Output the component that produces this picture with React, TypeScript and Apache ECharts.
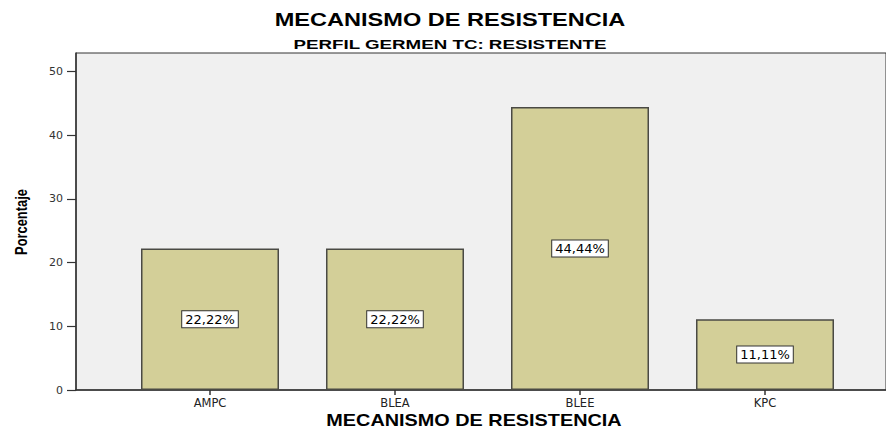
import React, { useEffect, useRef } from "react";
import * as echarts from "echarts";

const categories = ["AMPC", "BLEA", "BLEE", "KPC"];
const values = [22.22, 22.22, 44.44, 11.11];
const yTicks = [0, 10, 20, 30, 40, 50];
const yMax = 52.9;
const mainTitle = "MECANISMO DE RESISTENCIA";
const subTitle = "PERFIL GERMEN TC: RESISTENTE";
const xTitle = "MECANISMO DE RESISTENCIA";
const yTitle = "Porcentaje";

const fmt = (v: number) => v.toFixed(2).replace(".", ",") + "%";

export default function App() {
  const ref = useRef<HTMLDivElement>(null);
  useEffect(() => {
    if (!ref.current) return;
    const chart = echarts.init(ref.current, null, { renderer: "svg" });
    chart.setOption({
      animation: false,
      backgroundColor: "#ffffff",
      graphic: [
        {
          type: "text",
          x: 450,
          y: 20,
          scaleX: 1.24,
          style: {
            text: mainTitle,
            fontFamily: "Liberation Sans, Arial, sans-serif",
            fontWeight: "bold",
            fontSize: 19,
            fill: "#000",
            textAlign: "center",
            textVerticalAlign: "middle",
          },
        },
        {
          type: "text",
          x: 450,
          y: 44.5,
          scaleX: 1.5,
          style: {
            text: subTitle,
            fontFamily: "Liberation Sans, Arial, sans-serif",
            fontWeight: "bold",
            fontSize: 12.5,
            fill: "#000",
            textAlign: "center",
            textVerticalAlign: "middle",
          },
        },
        {
          type: "text",
          x: 474,
          y: 421,
          scaleX: 1.24,
          style: {
            text: xTitle,
            fontFamily: "Liberation Sans, Arial, sans-serif",
            fontWeight: "bold",
            fontSize: 16,
            fill: "#000",
            textAlign: "center",
            textVerticalAlign: "middle",
          },
        },
        {
          type: "text",
          x: 21,
          y: 222,
          rotation: Math.PI / 2,
          scaleX: 0.78,
          style: {
            text: yTitle,
            fontFamily: "Liberation Sans, Arial, sans-serif",
            fontWeight: "bold",
            fontSize: 16.5,
            fill: "#000",
            textAlign: "center",
            textVerticalAlign: "middle",
          },
        },
      ],
      grid: [
        {
          left: 76,
          right: -5,
          top: 53,
          bottom: 40,
          show: true,
          backgroundColor: "#f0f0f0",
          borderColor: "#333",
          borderWidth: 1,
        },
        {
          left: 117.5,
          width: 740,
          top: 53,
          bottom: 40,
        },
      ],
      xAxis: [
        {
          gridIndex: 0,
          type: "value",
          min: 0,
          max: 1,
          axisLine: { show: true, onZero: false, lineStyle: { color: "#333", width: 1.5 } },
          axisTick: { show: false },
          axisLabel: { show: false },
          splitLine: { show: false },
        },
        {
          gridIndex: 1,
          type: "category",
          data: categories,
          axisLine: { show: false },
          axisTick: { show: true, alignWithLabel: true, length: 5, lineStyle: { color: "#333", width: 1.5 } },
          axisLabel: {
            margin: 7,
            fontSize: 11.5,
            fontFamily: "DejaVu Sans, sans-serif",
            color: "#222",
          },
          splitLine: { show: false },
        },
      ],
      yAxis: [
        {
          gridIndex: 0,
          type: "value",
          min: 0,
          max: yMax,
          axisLine: { show: true, lineStyle: { color: "#333", width: 1.5 } },
          axisTick: { show: true, length: 9, customValues: yTicks, lineStyle: { color: "#333", width: 1.2 } },
          axisLabel: {
            customValues: yTicks,
            margin: 13,
            fontSize: 11,
            fontFamily: "DejaVu Sans, sans-serif",
            color: "#333",
          },
          splitLine: { show: false },
        },
        {
          gridIndex: 1,
          type: "value",
          min: 0,
          max: yMax,
          show: false,
          splitLine: { show: false },
        },
      ],
      series: [
        {
          type: "bar",
          xAxisIndex: 1,
          yAxisIndex: 1,
          data: values,
          barWidth: 138,
          itemStyle: {
            color: "#d3cf98",
            borderColor: "#4a4a44",
            borderWidth: 1.5,
          },
          label: {
            show: true,
            position: "inside",
            formatter: (p: any) => fmt(p.value),
            fontFamily: "DejaVu Sans, sans-serif",
            fontSize: 13,
            color: "#000",
            backgroundColor: "#ffffff",
            borderColor: "#333",
            borderWidth: 1,
            padding: [2, 3, 1, 3],
          },
        },
      ],
    });
    return () => chart.dispose();
  }, []);
  return (
    <div
      ref={ref}
      style={{ position: "fixed", left: 0, top: 0, width: 886, height: 430 }}
    />
  );
}
